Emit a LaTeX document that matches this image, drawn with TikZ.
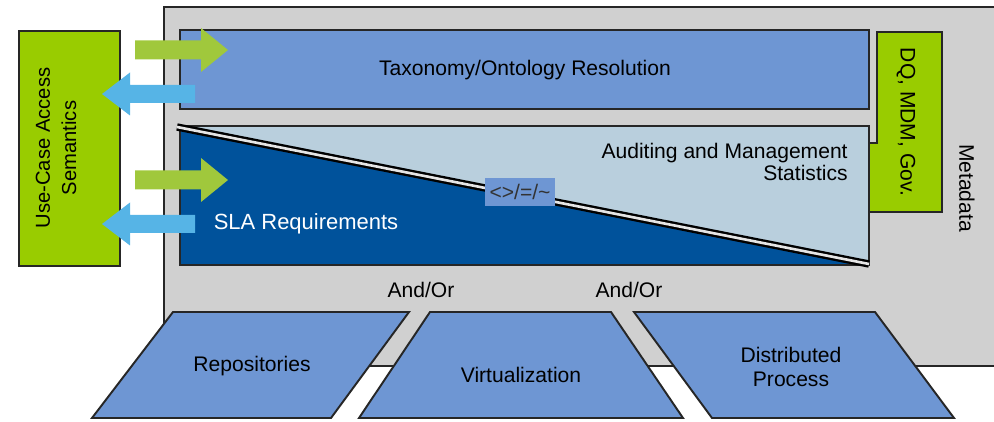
\documentclass[tikz,border=0pt]{standalone}
\usepackage{fontspec}
\setmainfont{Liberation Sans}
\usetikzlibrary{positioning}

\definecolor{boxgreen}{RGB}{153,204,0}
\definecolor{arrgreen}{RGB}{160,200,60}
\definecolor{arrblue}{RGB}{86,180,230}
\definecolor{midblue}{RGB}{110,150,211}
\definecolor{deepblue}{RGB}{0,82,155}
\definecolor{paleblue}{RGB}{185,207,221}
\definecolor{metagray}{RGB}{208,208,208}

\begin{document}
\begin{tikzpicture}[x=0.02cm, y=-0.02cm,
    txt/.style={font=\fontsize{12}{14}\selectfont, align=center, inner sep=0pt},
    outline/.style={draw=black!85, line width=1.1pt},
    storebox/.style={fill=midblue, outline, line join=miter}]
  \useasboundingbox (0,0) rectangle (994,422);

  % metadata layer
  \filldraw[fill=metagray, outline] (164,7) rectangle (1000,366);
  \node[txt, rotate=-90] (meta) at (967,188) {Metadata};

  % data stores
  \filldraw[storebox] (173,312) -- (409,312) -- (331,418) -- (92,418) -- cycle;
  \node[txt] (repo) at (252,366) {Repositories};
  \filldraw[storebox] (430,312) -- (611,312) -- (683,418) -- (359,418) -- cycle;
  \node[txt] (virt) at (521,375) {Virtualization};
  \filldraw[storebox] (634,312) -- (875,312) -- (954,418) -- (712,418) -- cycle;
  \node[txt] (dist) at (791,367) {Distributed\\Process};
  \node[txt] (andor1) at (421,290) {And/Or};
  \node[txt] (andor2) at (629,290) {And/Or};

  % use case semantics
  \filldraw[fill=boxgreen, outline] (19,31) rectangle (120,266);
  \node[txt, rotate=90, font=\fontsize{11.5}{15}\selectfont] (usecase) at (56,148) {Use-Case Access\\Semantics};

  % governance
  \filldraw[fill=boxgreen, outline] (877,32) -- (942,32) -- (942,212) -- (869,212)
    -- (869,143) -- (877,143) -- cycle;
  \node[txt, rotate=-90] (gov) at (906,122) {DQ, MDM, Gov.};

  % taxonomy
  \filldraw[fill=midblue, outline] (180,30) rectangle (869,109);
  \node[txt] (tax) at (525,70) {Taxonomy/Ontology Resolution};

  % auditing vs SLA
  \fill[paleblue] (180,126) rectangle (869,265);
  \fill[deepblue] (180,128) -- (869,265) -- (180,265) -- cycle;
  \draw[outline] (180,126) rectangle (869,265);
  \draw[line width=4.2pt] (177,127) -- (869,264);
  \draw[white!90!black, line width=1.5pt] (177,127) -- (869,264);
  \node[txt, align=right, anchor=north east, font=\fontsize{12}{12.5}\selectfont] (audit) at (848,143) {Auditing and Management\\Statistics};
  \node[txt, text=white, font=\fontsize{12.5}{14}\selectfont] (sla) at (306,224) {SLA Requirements};
  \node[txt, fill=midblue, text=black!80, minimum width=1.42cm, minimum height=0.58cm] (cmp) at (520,192) {<>/=/\textasciitilde};

  % request / response arrows
  \foreach \y in {50,180}
    \fill[arrgreen] (135,\y-9.5) -- (201,\y-9.5) -- (201,\y-22) -- (228,\y)
      -- (201,\y+22) -- (201,\y+9.5) -- (135,\y+9.5) -- cycle;
  \foreach \y in {94,224}
    \fill[arrblue] (195,\y-9) -- (130,\y-9) -- (130,\y-21.5) -- (102,\y)
      -- (130,\y+21.5) -- (130,\y+9) -- (195,\y+9) -- cycle;
\end{tikzpicture}
\end{document}
